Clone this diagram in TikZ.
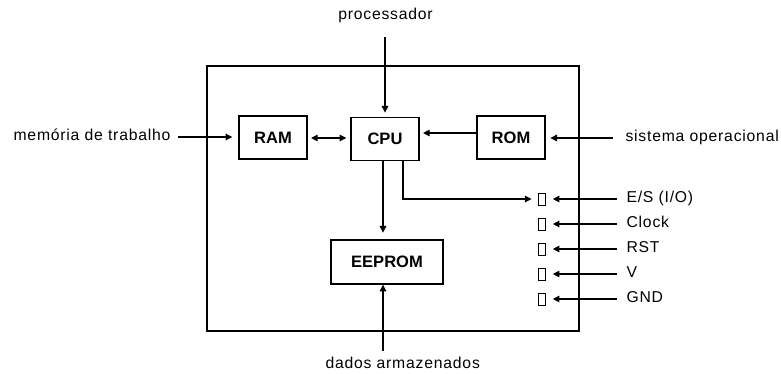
\documentclass[tikz,border=0pt]{standalone}
\usepackage{fontspec}
\setmainfont{Liberation Sans}
\newfontfamily\lblfont[LetterSpace=5]{Liberation Sans}
\usetikzlibrary{arrows.meta,calc,positioning}

\begin{document}
\begin{tikzpicture}[x=0.75pt, y=-0.75pt, line width=0.8pt,
  >={Triangle[length=5pt,width=5pt]}]

\tikzset{
  blk/.style={draw, line width=1.1pt, inner sep=0pt, minimum width=51pt,
    minimum height=32.5pt, font=\fontsize{12.4pt}{14pt}\selectfont\bfseries},
  lbl/.style={inner sep=0pt, font=\fontsize{11.8pt}{13pt}\lblfont},
  pad/.style={draw, line width=0.7pt, inner sep=0pt, minimum width=5.25pt,
    minimum height=9pt}
}

\useasboundingbox (0,0) rectangle (781,374);

% chip outline
\draw[line width=1pt] (207,66) rectangle (579,331);

% blocks
\node[blk] (ram) at (273,137.5) {RAM};
\node[blk] (cpu) at (385,139) {CPU};
\node[blk] (rom) at (511,137.5) {ROM};
\node[blk, minimum width=84pt, minimum height=33pt] (eeprom) at (387,262) {EEPROM};

% outside labels
\node[lbl, anchor=base] (proc) at (385.5,20) {processador};
\node[lbl, anchor=mid east] (mem) at (171,137) {memória de trabalho};
\node[lbl, anchor=mid west] (sis) at (625,138) {sistema operacional};
\node[lbl, anchor=base west] (dados) at (325,368) {dados armazenados};

\coordinate (procend) at (385,37);
\coordinate (memend) at (178,137);
\coordinate (sisend) at (613,138);
\coordinate (dadosend) at (383,351);

\draw[->, shorten >=3pt] (procend) -- (cpu.north -| procend);
\draw[->, shorten >=4.5pt] (memend) -- (ram.west |- memend);
\draw[<->, shorten <=2.5pt, shorten >=3pt] (ram.east |- 0,138) -- (cpu.west |- 0,138);
\draw[->, shorten >=2.5pt] (rom.west |- 0,133) -- (cpu.east |- 0,133);
\draw[->, shorten >=3.5pt] (sisend) -- (rom.east |- sisend);
\draw[->, shorten >=5pt] (cpu.south -| 383,0) -- (eeprom.north -| 383,0);
\draw[->] (dadosend) -- (eeprom.south -| dadosend);

% pins
\foreach \lab [count=\i from 0] in {{E/S (I/O)},Clock,RST,V,GND} {
  \node[pad] (pad\i) at (541.5,199+25*\i) {};
  \node[lbl, anchor=mid west] (io\i) at (626,199+25*\i) {\lab};
  \draw[->, shorten >=5.5pt] ([xshift=-6.75pt]io\i.mid west) -- (pad\i.east);
}
\draw[->, shorten >=4.5pt] (cpu.south -| 403,0) |- (pad0.west);

\end{tikzpicture}
\end{document}
